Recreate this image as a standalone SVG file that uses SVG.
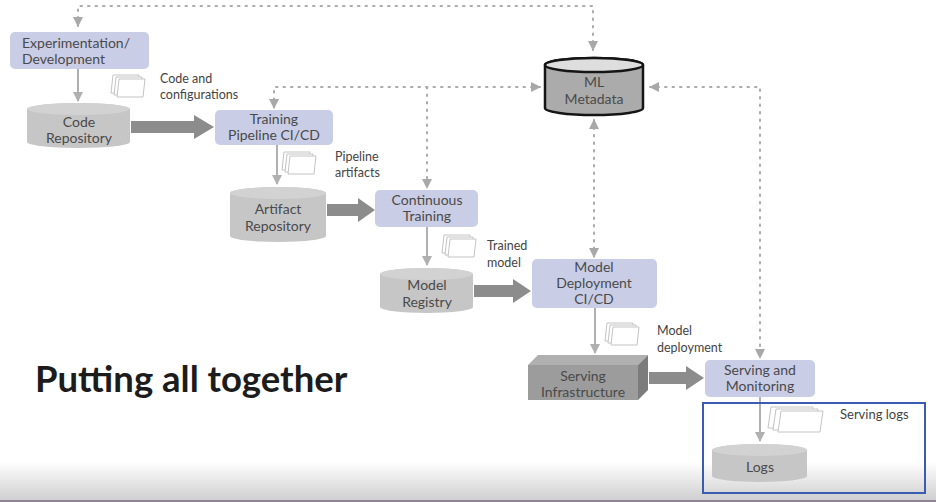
<svg xmlns="http://www.w3.org/2000/svg" width="936" height="502" viewBox="0 0 936 502">
<defs>
<style>
text{font-family:Lato,"Open Sans","Liberation Sans",sans-serif;fill:#4a4a4a;font-size:14px}
.c{text-anchor:middle}
.lbl{font-size:12.5px;fill:#444}
.box{fill:#c9cde6;stroke:none}
.cyl{fill:#c6c6c6}
.cyltop{fill:#d2d2d2}
.dot{fill:none;stroke:#ababab;stroke-width:2;stroke-dasharray:1.5 6;stroke-linecap:round}
.thin{fill:none;stroke:#b0b0b0;stroke-width:2}
.fat{fill:#8c8c8c}
.doc{fill:#fff;stroke:#c4c4c4;stroke-width:1}
</style>
<linearGradient id="bot" x1="0" y1="0" x2="0" y2="1">
<stop offset="0" stop-color="#ffffff"/>
<stop offset="1" stop-color="#cfcfcf"/>
</linearGradient>
<marker id="ad" viewBox="0 0 10 10" refX="9" refY="5" markerWidth="5" markerHeight="5" orient="auto-start-reverse" markerUnits="strokeWidth">
<path d="M0,0 L10,5 L0,10 z" fill="#a8a8a8"/>
</marker>
<marker id="at" viewBox="0 0 10 10" refX="9" refY="5" markerWidth="5" markerHeight="5" orient="auto" markerUnits="strokeWidth">
<path d="M0,0 L10,5 L0,10 z" fill="#b0b0b0"/>
</marker>
<g id="docs">
<path class="doc" d="M2,0 h26 l-2,18 h-26 z"/>
<path class="doc" d="M5,2 h26 l-2,18 h-26 z"/>
<path class="doc" d="M8,4 h26 l-2,18 h-26 z"/>
</g>
<g id="docsw">
<path class="doc" d="M3,0 h42 l-3,21 h-42 z"/>
<path class="doc" d="M8,2 h42 l-3,21 h-42 z"/>
<path class="doc" d="M13,4 h42 l-3,21 h-42 z"/>
</g>
</defs>
<rect width="936" height="502" fill="#ffffff"/>
<rect x="0" y="462" width="936" height="38" fill="url(#bot)"/>
<rect x="0" y="500" width="936" height="2" fill="#8e8496"/>

<g id="connectors">
<path class="dot" d="M78,26 V6 H593 V50" marker-start="url(#ad)" marker-end="url(#ad)"/>
<path class="dot" d="M540,87 H274 V108" marker-start="url(#ad)" marker-end="url(#ad)"/>
<path class="dot" d="M427,87 V188" marker-end="url(#ad)"/>
<path class="dot" d="M650,87 H760 V358" marker-start="url(#ad)" marker-end="url(#ad)"/>
<path class="dot" d="M594,120 V257" marker-start="url(#ad)" marker-end="url(#ad)"/>
<path class="thin" d="M78,69 V101" marker-end="url(#at)"/>
<path class="thin" d="M277,145 V184" marker-end="url(#at)"/>
<path class="thin" d="M427,227 V265" marker-end="url(#at)"/>
<path class="thin" d="M595,308 V353" marker-end="url(#at)"/>
<path class="thin" d="M760,397 V441" marker-end="url(#at)"/>
<path class="fat" d="M131,121 H194 V115 L214,127 L194,139 V133 H131 z"/>
<path class="fat" d="M327,204 H358 V198 L375,210 L358,222 V216 H327 z"/>
<path class="fat" d="M474,285 H513 V279 L531,291 L513,303 V297 H474 z"/>
<path class="fat" d="M649,372 H686 V366 L704,378 L686,390 V384 H649 z"/>
</g>

<g id="icon-code"><use href="#docs" x="111" y="75"/></g>
<text class="lbl" x="160" y="83">Code and</text>
<text class="lbl" x="160" y="99">configurations</text>
<g id="icon-pipeline"><use href="#docs" x="282" y="152"/></g>
<text class="lbl" x="335" y="161">Pipeline</text>
<text class="lbl" x="335" y="177">artifacts</text>
<g id="icon-trained"><use href="#docs" x="442" y="235"/></g>
<text class="lbl" x="487" y="250">Trained</text>
<text class="lbl" x="487" y="267">model</text>
<g id="icon-deploy"><use href="#docs" x="605" y="323"/></g>
<text class="lbl" x="657" y="335">Model</text>
<text class="lbl" x="657" y="352">deployment</text>
<g id="icon-logs"><use href="#docsw" x="768" y="407"/></g>
<text class="lbl" x="840" y="419" style="font-size:13px">Serving logs</text>

<g id="exp">
<rect class="box" x="10" y="32" width="139" height="37" rx="5"/>
<text x="22" y="48">Experimentation/</text>
<text x="22" y="64">Development</text>
</g>

<g id="code-repo">
<path class="cyl" d="M27,109 A51.5,6 0 0 1 130,109 V142 A51.5,6 0 0 1 27,142 z"/>
<ellipse class="cyltop" cx="78.5" cy="109" rx="51.5" ry="6"/>
<text class="c" x="79" y="127">Code</text>
<text class="c" x="79" y="143">Repository</text>
</g>

<g id="training">
<rect class="box" x="215" y="110" width="118" height="35" rx="5"/>
<text class="c" x="274" y="124">Training</text>
<text class="c" x="274" y="140">Pipeline CI/CD</text>
</g>

<g id="ml-metadata">
<path d="M545,65 A49,7 0 0 1 643,65 V108 A49,7 0 0 1 545,108 z" fill="#ababab" stroke="#151515" stroke-width="2.5"/>
<ellipse cx="594" cy="65" rx="49" ry="7" fill="#dedede" stroke="#151515" stroke-width="2.5"/>
<text class="c" x="594" y="87">ML</text>
<text class="c" x="594" y="104">Metadata</text>
</g>

<g id="artifact-repo">
<path class="cyl" d="M230,193 A48,6 0 0 1 326,193 V236 A48,6 0 0 1 230,236 z"/>
<ellipse class="cyltop" cx="278" cy="193" rx="48" ry="6"/>
<text class="c" x="278" y="214">Artifact</text>
<text class="c" x="278" y="231">Repository</text>
</g>

<g id="continuous-training">
<rect class="box" x="375" y="190" width="103" height="37" rx="5"/>
<text class="c" x="427" y="205">Continuous</text>
<text class="c" x="427" y="221">Training</text>
</g>

<g id="model-registry">
<path class="cyl" d="M380,274 A46.5,6 0 0 1 473,274 V307 A46.5,6 0 0 1 380,307 z"/>
<ellipse class="cyltop" cx="426.5" cy="274" rx="46.5" ry="6"/>
<text class="c" x="427" y="290">Model</text>
<text class="c" x="427" y="307">Registry</text>
</g>

<g id="model-deployment">
<rect class="box" x="532" y="259" width="125" height="49" rx="5"/>
<text class="c" x="594" y="272">Model</text>
<text class="c" x="594" y="288">Deployment</text>
<text class="c" x="594" y="304">CI/CD</text>
</g>

<g id="serving-infra">
<path d="M528,365 L538,355 H648 L638,365 z" fill="#b0b0b0"/>
<path d="M638,365 L648,355 V390 L638,400 z" fill="#7c7c7c"/>
<rect x="528" y="365" width="110" height="35" fill="#9c9c9c"/>
<text class="c" x="583" y="381">Serving</text>
<text class="c" x="583" y="397">Infrastructure</text>
</g>

<g id="serving-monitoring">
<rect class="box" x="705" y="360" width="110" height="37" rx="5"/>
<text class="c" x="760" y="375">Serving and</text>
<text class="c" x="760" y="391">Monitoring</text>
</g>

<g id="logs-area">
<rect x="703" y="403" width="222" height="90" fill="none" stroke="#3a5cb0" stroke-width="2"/>
</g>

<g id="logs">
<path class="cyl" d="M712,450 A47.5,6 0 0 1 807,450 V476 A47.5,6 0 0 1 712,476 z"/>
<ellipse class="cyltop" cx="759.5" cy="450" rx="47.5" ry="6"/>
<text class="c" x="760" y="472">Logs</text>
</g>

<text x="35" y="392" style="font-size:36.5px;font-weight:700;fill:#1c1c1c">Putting all together</text>
</svg>
